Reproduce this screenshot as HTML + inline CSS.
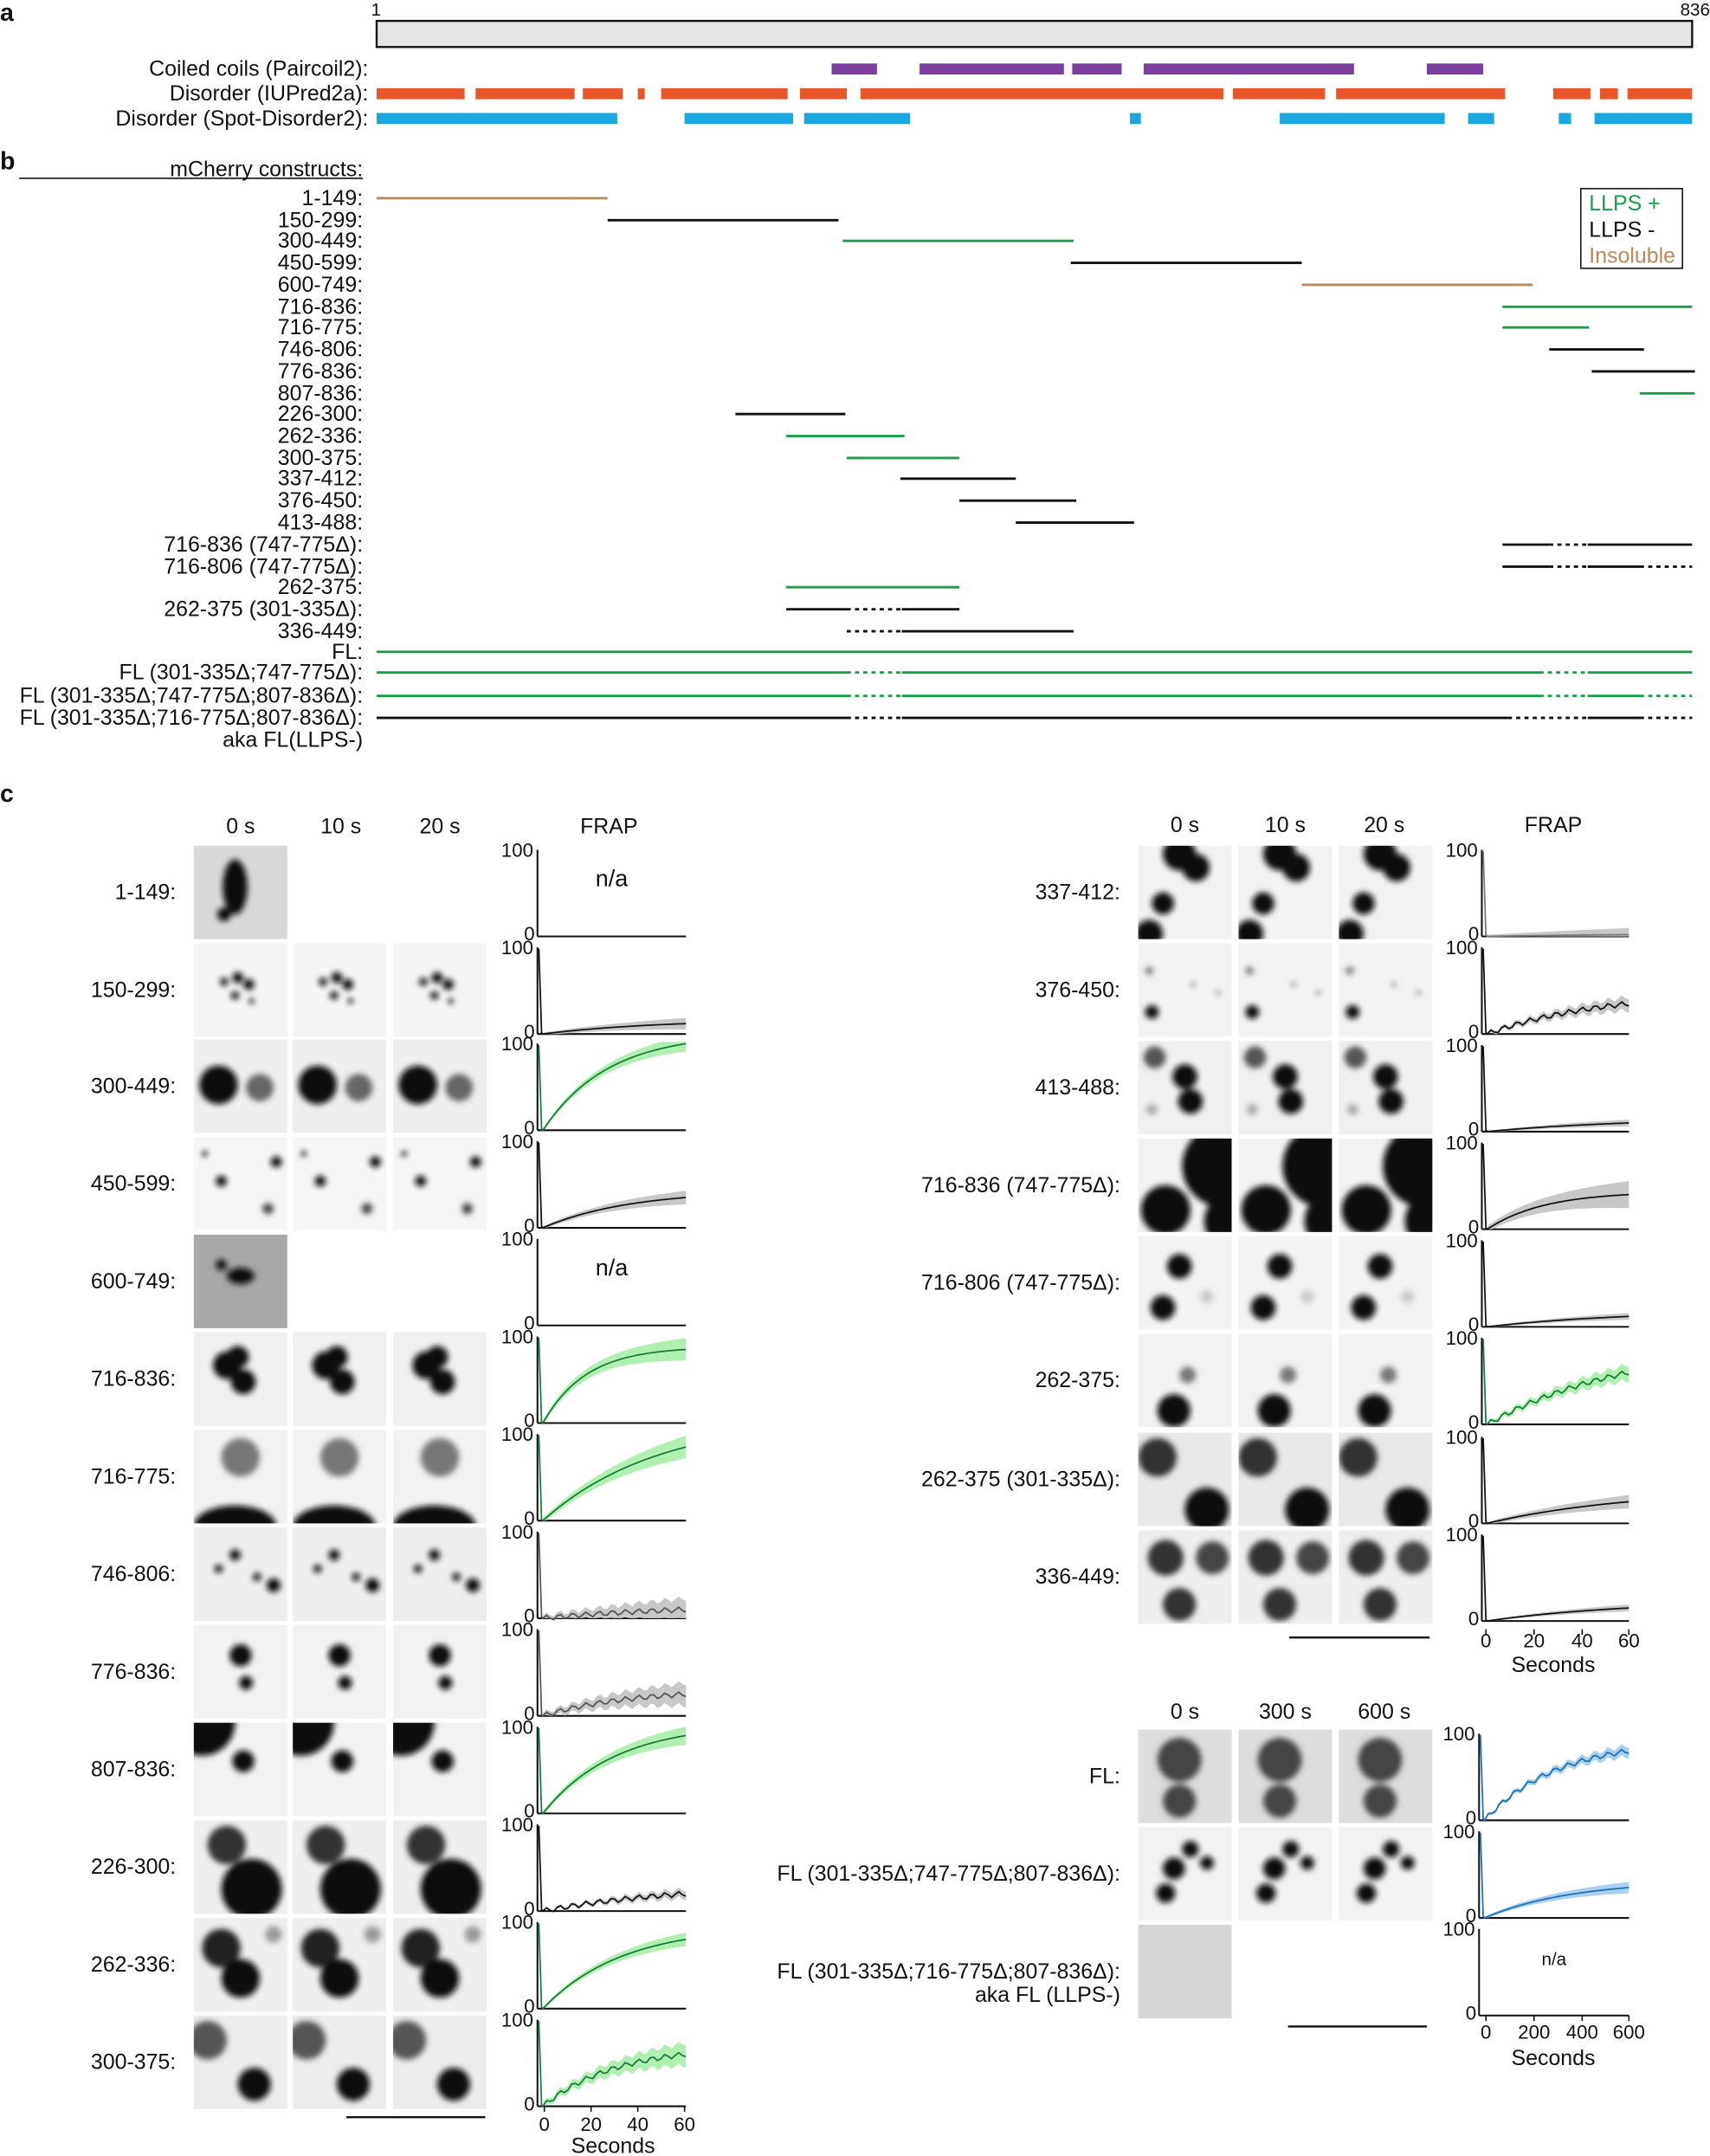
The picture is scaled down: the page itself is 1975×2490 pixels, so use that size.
<!DOCTYPE html>
<html><head><meta charset="utf-8">
<style>html,body{margin:0;padding:0;background:#fff}svg{display:block}text{font-family:"Liberation Sans",Arial,sans-serif}</style>
</head><body>
<svg id="s" xmlns="http://www.w3.org/2000/svg" width="1975" height="2490" viewBox="0 0 1244 1568">
<defs>
<filter id="bl" x="-20%" y="-20%" width="140%" height="140%"><feGaussianBlur stdDeviation="2.2"/></filter>
<clipPath id="cp"><rect x="0" y="0" width="68" height="68"/></clipPath>
</defs>
<text x="0" y="15" font-size="18" font-weight="bold" fill="#111">a</text>
<text x="0" y="123" font-size="18" font-weight="bold" fill="#111">b</text>
<text x="0" y="583" font-size="18" font-weight="bold" fill="#111">c</text>
<rect x="274" y="15" width="957" height="19" fill="#e4e4e4" stroke="#111" stroke-width="1.5"/>
<text x="270" y="11" font-size="13" fill="#111">1</text>
<text x="1244" y="11" font-size="13" text-anchor="end" fill="#111">836</text>
<g font-size="15.7" text-anchor="end" fill="#111">
<text x="268" y="55">Coiled coils (Paircoil2):</text>
<text x="268" y="73">Disorder (IUPred2a):</text>
<text x="268" y="91">Disorder (Spot-Disorder2):</text>
</g>
<g id="g"></g>
</svg>
<script>
const NS="http://www.w3.org/2000/svg",G=document.getElementById('g');
function el(t,a,p){const e=document.createElementNS(NS,t);for(const k in a)e.setAttribute(k,a[k]);(p||G).appendChild(e);return e}
function tx(x,y,s,o){const e=el('text',Object.assign({x,y,'font-size':15.7,fill:'#111'},o||{}));e.textContent=s;return e}
function ln(x1,y1,x2,y2,c,w,d){return el('line',{x1,y1,x2,y2,stroke:c,'stroke-width':w||1.5,'stroke-dasharray':d||'none'})}
const P='#7b3f9e',O='#e8562a',B='#1aa7e0';
[[605,638],[669,774],[780,816],[832,985],[1038,1079]].forEach(s=>el('rect',{x:s[0],y:46,width:s[1]-s[0],height:8,fill:P}));
[[274,338],[346,418],[424,453],[464,469],[481,573],[582,616],[626,890],[897,964],[972,1095],[1130,1157],[1164,1177],[1184,1231]].forEach(s=>el('rect',{x:s[0],y:64,width:s[1]-s[0],height:8,fill:O}));
[[274,449],[498,577],[585,662],[822,830],[931,1051],[1068,1087],[1134,1143],[1160,1231]].forEach(s=>el('rect',{x:s[0],y:82,width:s[1]-s[0],height:8,fill:B}));
tx(264,128,'mCherry constructs:',{'text-anchor':'end'});ln(14,129.5,264,129.5,'#111',1);
const GR='#1a9e4a',K='#111',T='#b88a5c',D='3,3';
const rows=[
['1-149:',144,[[274,442,T]]],['150-299:',160,[[442,610,K]]],['300-449:',175,[[613,781,GR]]],['450-599:',191,[[779,947,K]]],
['600-749:',207,[[947,1115,T]]],['716-836:',223,[[1093,1231,GR]]],['716-775:',238,[[1093,1156,GR]]],['746-806:',254,[[1127,1196,K]]],
['776-836:',270,[[1158,1233,K]]],['807-836:',286,[[1193,1233,GR]]],['226-300:',301,[[535,615,K]]],['262-336:',317,[[572,658,GR]]],
['300-375:',333,[[616,698,GR]]],['337-412:',348,[[655,739,K]]],['376-450:',364,[[698,783,K]]],['413-488:',380,[[739,825,K]]],
['716-836 (747-775Δ):',396,[[1093,1127,K],[1127,1155,K,1],[1155,1231,K]]],
['716-806 (747-775Δ):',412,[[1093,1127,K],[1127,1155,K,1],[1155,1193,K],[1193,1231,K,1]]],
['262-375:',427,[[572,698,GR]]],
['262-375 (301-335Δ):',443,[[572,616,K],[616,656,K,1],[656,698,K]]],
['336-449:',459,[[616,656,K,1],[656,781,K]]],
['FL:',474,[[274,1231,GR]]],
['FL (301-335Δ;747-775Δ):',489,[[274,616,GR],[616,656,GR,1],[656,1120,GR],[1120,1155,GR,1],[1155,1231,GR]]],
['FL (301-335Δ;747-775Δ;807-836Δ):',506,[[274,616,GR],[616,656,GR,1],[656,1120,GR],[1120,1155,GR,1],[1155,1193,GR],[1193,1231,GR,1]]],
['FL (301-335Δ;716-775Δ;807-836Δ):',522,[[274,616,K],[616,656,K,1],[656,1097,K],[1097,1155,K,1],[1155,1193,K],[1193,1231,K,1]]]];
rows.forEach(r=>{tx(264,r[1]+5,r[0],{'text-anchor':'end'});r[2].forEach(s=>ln(s[0],r[1],s[1],r[1],s[2],1.8,s[3]?D:null))});
tx(264,543,'aka FL(LLPS-)',{'text-anchor':'end'});
el('rect',{x:1150,y:137,width:74,height:58,fill:'#fff',stroke:'#111','stroke-width':1});
tx(1156,153,'LLPS +',{fill:GR});tx(1156,172,'LLPS -');tx(1156,191,'Insoluble',{fill:T});
function img(x,y,bg,blobs,k){
 const g=el('g',{transform:`translate(${x},${y})`});
 el('rect',{x:0,y:0,width:68,height:68,fill:bg},g);
 const g2=el('g',{'clip-path':'url(#cp)',filter:'url(#bl)'},g);
 blobs.forEach(b=>{let r=b[2]+(b[4]||0)*k;el('ellipse',{cx:b[0],cy:b[1],rx:r,ry:b[3]?b[3]:r,fill:b[5]||'#111'},g2)});
}
function frap(x0,yT,yB,w,opt){
 ln(x0,yT,x0,yB,'#111',1.3);ln(x0,yB,x0+w,yB,'#111',1.3);
 tx(x0-3,yT+5,'100',{'text-anchor':'end','font-size':14});tx(x0-2,yB+3,'0',{'text-anchor':'end','font-size':14});
 if(opt.na){tx(x0+w/2,yT+(yB-yT)*0.42,'n/a',{'text-anchor':'middle','font-size':opt.naS||17});return}
 const h=yB-yT,c=opt.c,band=opt.band;
 let up=[],dn=[],mid=[];
 const N=40;
 for(let i=0;i<=N;i++){const t=i/N;const x=x0+4+t*(w-4);
  const v=opt.f*(opt.lin?t:(1-Math.exp(-t/opt.tau))/(1-Math.exp(-1/opt.tau)))+ (opt.noise?Math.sin(i*1.7)*0.03:0);
  const bw=opt.bw*(0.3+t);
  mid.push([x,yB-h*v]);up.push([x,yB-h*Math.min(1.02,v+bw)]);dn.push([x,yB-h*Math.max(0,v-bw)]);}
 el('path',{d:'M'+up.map(p=>p.join(',')).join('L')+'L'+dn.reverse().map(p=>p.join(',')).join('L')+'Z',fill:band,stroke:'none'});
 el('path',{d:`M${x0+1},${yT+1}L${x0+3},${yB-1}L`+mid.map(p=>p.join(',')).join('L'),fill:'none',stroke:c,'stroke-width':1.1});
}
const GB='#c8c8c8',GL='#aff0b0';
function hdr(y,xs,labs){labs.forEach((l,i)=>tx(xs[i],y,l,{'text-anchor':'middle'}))}
hdr(606,[175,248,320,443],['0 s','10 s','20 s','FRAP']);
hdr(605,[862,935,1007,1130],['0 s','10 s','20 s','FRAP']);
hdr(1250,[862,935,1007],['0 s','300 s','600 s']);
const L=[
['1-149:',615,'#d8d8d8',[[30,30,9,20],[22,50,5]],{na:1},1],
['150-299:',686,'#f5f5f5',[[22,28,3],[32,25,4],[40,30,4],[30,38,3],[42,42,2]],{f:.12,tau:.8,bw:.05,c:'#111',band:GB}],
['300-449:',756,'#eee',[[18,33,14],[48,35,10,0,0,'#666']],{f:1,tau:.45,bw:.07,c:'#187a3a',band:GL}],
['450-599:',827,'#f6f6f6',[[20,32,4],[60,18,4],[54,52,4,0,0,'#444'],[8,12,2]],{f:.35,tau:.6,bw:.06,c:'#111',band:GB}],
['600-749:',898,'#a8a8a8',[[34,30,10,6],[20,22,4]],{na:1},1],
['716-836:',969,'#f0f0f0',[[24,24,10],[36,36,9],[32,18,8]],{f:.85,tau:.3,bw:.1,c:'#187a3a',band:GL}],
['716-775:',1040,'#f2f2f2',[[34,20,14,0,0,'#777'],[30,70,30,15]],{f:.85,tau:.8,bw:.1,c:'#187a3a',band:GL}],
['746-806:',1111,'#eee',[[30,20,4],[46,36,3],[58,42,5],[18,30,3]],{f:.1,tau:1,bw:.1,c:'#555',band:GB,noise:1}],
['776-836:',1182,'#f2f2f2',[[34,22,8],[38,42,5]],{f:.25,tau:.6,bw:.1,c:'#555',band:GB,noise:1}],
['807-836:',1253,'#f2f2f2',[[6,0,24],[36,28,8]],{f:.9,tau:.5,bw:.08,c:'#187a3a',band:GL}],
['226-300:',1324,'#eee',[[24,18,14,0,0,'#333'],[42,50,22]],{f:.2,tau:1,bw:.04,c:'#111',band:GB,noise:1}],
['262-336:',1395,'#eee',[[20,22,14,0,0,'#222'],[34,44,14],[58,12,6,0,0,'#999']],{f:.8,tau:.55,bw:.06,c:'#187a3a',band:GL}],
['300-375:',1466,'#ececec',[[10,18,14,0,0,'#555'],[44,50,12]],{f:.6,tau:.5,bw:.1,c:'#187a3a',band:GL,noise:1}]];
L.forEach(r=>{const y=r[1];tx(128,y+39,r[0],{'text-anchor':'end'});
 const n=r[5]?1:3;[141,213,286].slice(0,n).forEach((x,k)=>img(x,y,r[2],r[3],k));
 frap(391,y+3,y+66,108,r[4]);});
ln(252,1540,353,1540,'#111',1.5);
[[0,396],[20,430],[40,464],[60,498]].forEach(t=>{ln(t[1],1532,t[1],1536,'#111',1);tx(t[1],1550,t[0],{'text-anchor':'middle','font-size':14})});
tx(446,1566,'Seconds',{'text-anchor':'middle','font-size':15.7});
const R=[
['337-412:',615,'#f2f2f2',[[30,6,12],[42,16,10],[18,42,8],[8,64,10]],{f:.02,tau:1,bw:.06,c:'#777',band:GB}],
['376-450:',686,'#f3f3f3',[[10,50,5],[8,20,3,0,0,'#777'],[40,30,2,0,0,'#999'],[58,36,2,0,0,'#999']],{f:.35,tau:.8,bw:.06,c:'#111',band:GB,noise:1}],
['413-488:',757,'#f0f0f0',[[12,12,8,0,0,'#555'],[34,26,9],[38,44,9],[10,50,4,0,0,'#aaa']],{f:.1,tau:1,bw:.03,c:'#111',band:GB}],
['716-836 (747-775Δ):',828,'#f2f2f2',[[20,52,18],[62,20,30],[68,60,20]],{f:.4,tau:.4,bw:.12,c:'#111',band:GB}],
['716-806 (747-775Δ):',899,'#f3f3f3',[[30,22,9],[18,52,9],[50,44,5,0,0,'#ccc']],{f:.12,tau:1,bw:.03,c:'#111',band:GB}],
['262-375:',970,'#f2f2f2',[[36,30,6,0,0,'#777'],[26,56,12]],{f:.6,tau:1,bw:.07,c:'#187a3a',band:GL,noise:1}],
['262-375 (301-335Δ):',1042,'#e8e8e8',[[14,18,14,0,0,'#333'],[50,56,16]],{f:.25,tau:1,bw:.06,c:'#111',band:GB}],
['336-449:',1113,'#eee',[[20,20,13,0,0,'#333'],[54,20,12,0,0,'#444'],[30,54,12,0,0,'#333']],{f:.15,tau:1,bw:.03,c:'#111',band:GB}]];
R.forEach(r=>{const y=r[1];tx(815,y+39,r[0],{'text-anchor':'end'});
 [828,901,974].forEach((x,k)=>img(x,y,r[2],r[3],k));
 frap(1078,y+3,y+66,107,r[4]);});
ln(938,1191,1040,1191,'#111',1.5);
[[0,1081],[20,1116],[40,1151],[60,1185]].forEach(t=>{ln(t[1],1185,t[1],1189,'#111',1);tx(t[1],1198,t[0],{'text-anchor':'middle','font-size':14})});
tx(1130,1216,'Seconds',{'text-anchor':'middle','font-size':15.7});
const BL='#1f6fb0',BB='#a8d0f0';
const F=[
['FL:',1258,'#ddd',[[30,22,16,0,0,'#444'],[30,52,12,0,0,'#444']],{f:.8,tau:.5,bw:.05,c:BL,band:BB,noise:1}],
['FL (301-335Δ;747-775Δ;807-836Δ):',1329,'#f2f2f2',[[26,30,8],[38,16,6],[20,48,7],[50,26,5]],{f:.35,tau:.6,bw:.05,c:BL,band:BB}],
['FL (301-335Δ;716-775Δ;807-836Δ):',1400,'#d6d6d6',[],{na:1,naS:13},1]];
F.forEach(r=>{const y=r[1];tx(815,y+39,r[0],{'text-anchor':'end'});
 const n=r[5]?1:3;[828,901,974].slice(0,n).forEach((x,k)=>img(x,y,r[2],r[3],k));
 frap(1076,y+3,y+66,109,r[4]);});
tx(815,1456,'aka FL (LLPS-)',{'text-anchor':'end'});
ln(937,1474,1038,1474,'#111',1.5);
[[0,1081],[200,1116],[400,1151],[600,1185]].forEach(t=>{ln(t[1],1466,t[1],1470,'#111',1);tx(t[1],1483,t[0],{'text-anchor':'middle','font-size':14})});
tx(1130,1502,'Seconds',{'text-anchor':'middle','font-size':15.7});
</script>
</body></html>
